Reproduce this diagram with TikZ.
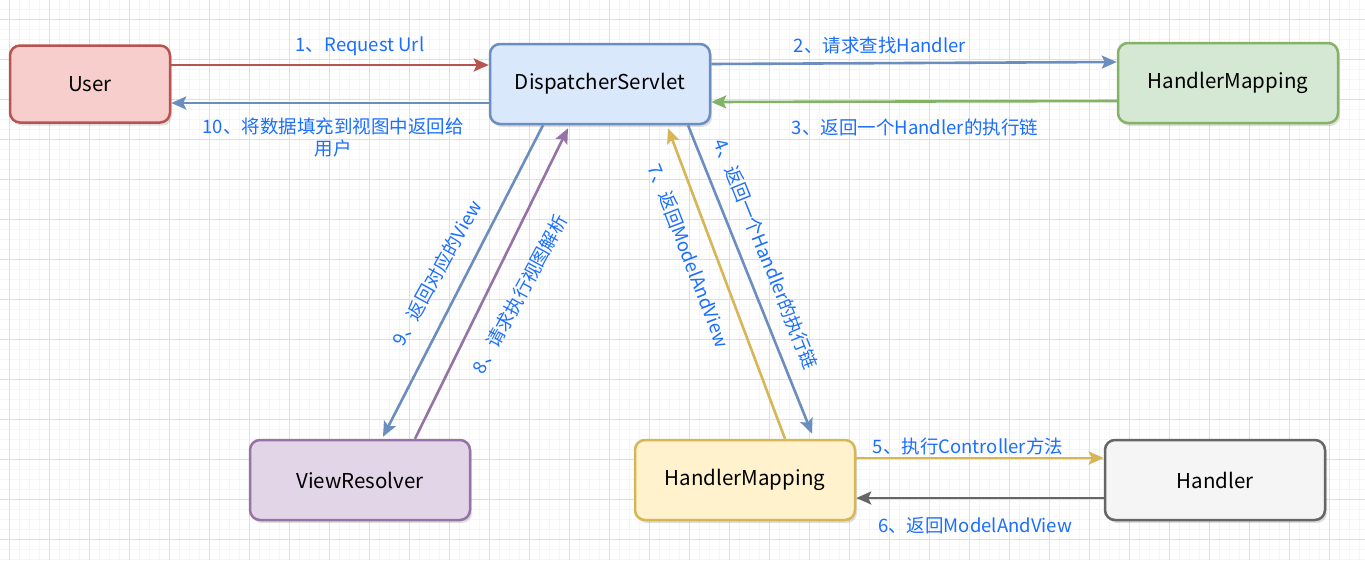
\documentclass[tikz,border=0pt]{standalone}
\usepackage{fontspec}
\setmainfont{Noto Sans CJK SC}
\usepackage{tikz}
\usetikzlibrary{arrows.meta,shadows,calc}
\definecolor{redfill}{HTML}{F8CECC}\definecolor{redline}{HTML}{B85450}
\definecolor{bluefill}{HTML}{DAE8FC}\definecolor{blueline}{HTML}{6C8EBF}
\definecolor{greenfill}{HTML}{D5E8D4}\definecolor{greenline}{HTML}{82B366}
\definecolor{purplefill}{HTML}{E1D5E7}\definecolor{purpleline}{HTML}{9673A6}
\definecolor{yellowfill}{HTML}{FFF2CC}\definecolor{yellowline}{HTML}{D6B656}
\definecolor{grayfill}{HTML}{F5F5F5}\definecolor{grayline}{HTML}{666666}
\definecolor{labelblue}{HTML}{1A6FFF}
\tikzset{box/.style={rectangle, rounded corners=10pt, line width=2.5pt, minimum width=220pt, minimum height=80pt,
  font=\fontsize{20.5}{23}\selectfont, drop shadow={shadow xshift=2pt, shadow yshift=-3pt, opacity=0.25}},
box/.default={}}
\tikzset{flow/.style={line width=2.6pt, -{Stealth[length=15pt,width=13pt,inset=3pt]}}}
\tikzset{lbl/.style={text=labelblue, font=\fontsize{18.5}{22}\selectfont, inner sep=1pt}}

\begin{document}
\begin{tikzpicture}[x=1pt,y=-1pt]
			\useasboundingbox[fill=white] (0,0) rectangle (1365,560);
			\foreach \gx in {9,19,...,1365}
			\draw [black!4, line width=0.8pt] (\gx,0) -- (\gx,560);
			\foreach \gy in {9,19,...,560}
			\draw [black!4, line width=0.8pt] (0,\gy) -- (1365,\gy);
			\foreach \gx in {9,49,...,1365}
			\draw [black!12, line width=0.8pt] (\gx,0) -- (\gx,560);
			\foreach \gy in {19,59,...,560}
			\draw [black!12, line width=0.8pt] (0,\gy) -- (1365,\gy);
			\node [box, draw=redline, fill=redfill, minimum width=160pt, minimum height=77pt] (user) at (90,84) {User};
			\node [box, draw=blueline, fill=bluefill] (dispatcher) at (600,84) {DispatcherServlet};
			\node [box, draw=greenline, fill=greenfill] (hmapping) at (1228,83) {HandlerMapping};
			\node [box, draw=purpleline, fill=purplefill] (viewresolver) at (360,480) {ViewResolver};
			\node [box, draw=yellowline, fill=yellowfill] (hadapter) at (745,480) {HandlerMapping};
			\node [box, draw=grayline, fill=grayfill] (handler) at (1215,480) {Handler};
			\draw [flow, redline] ([yshift=19pt]user.east) -- ([yshift=19pt]dispatcher.west);
			\draw [flow, blueline] ([yshift=-19pt]dispatcher.west) -- ([yshift=-19pt]user.east);
			\draw [flow, blueline] ([yshift=20pt]dispatcher.east) -- ([yshift=21pt]hmapping.west);
			\draw [flow, greenline] ([yshift=-18pt]hmapping.west) -- ([yshift=-18pt]dispatcher.east);
			\draw [flow, blueline] ([xshift=88pt]dispatcher.south) -- ([xshift=67pt,yshift=5pt]hadapter.north);
			\draw [flow, yellowline] ([xshift=40pt]hadapter.north) -- ([xshift=68pt,yshift=-3pt]dispatcher.south);
			\draw [flow, yellowline] ([yshift=22pt]hadapter.east) -- ([yshift=22pt]handler.west);
			\draw [flow, grayline] ([yshift=-18pt]handler.west) -- ([yshift=-18pt]hadapter.east);
			\draw [flow, purpleline] ([xshift=55pt]viewresolver.north) -- ([xshift=-32pt,yshift=-3pt]dispatcher.south);
			\draw [flow, blueline] ([xshift=-57pt]dispatcher.south) -- ([xshift=23pt,yshift=2pt]viewresolver.north);
			\node [lbl] (l1) at (360,46) {1、Request Url};
			\node [lbl] (l2) at (880,45) {2、请求查找Handler};
			\node [lbl] (l3) at (915,127) {3、返回一个Handler的执行链};
			\node [lbl, align=center] (l10) at (333,137) {10、将数据填充到视图中返回给\\用户};
			\node [lbl] (l5) at (968,446) {5、执行Controller方法};
			\node [lbl] (l6) at (975,526) {6、返回ModelAndView};
			\node [lbl, rotate=61] (l9) at (437,273) {9、返回对应的View};
			\node [lbl, rotate=61.5] (l8) at (520,294) {8、请求执行视图解析};
			\node [lbl, rotate=-68] (l4) at (766,254) {4、返回一个Handler的执行链};
			\node [lbl, rotate=-69] (l7) at (689,256) {7、返回ModelAndView};
		\end{tikzpicture}
\end{document}
